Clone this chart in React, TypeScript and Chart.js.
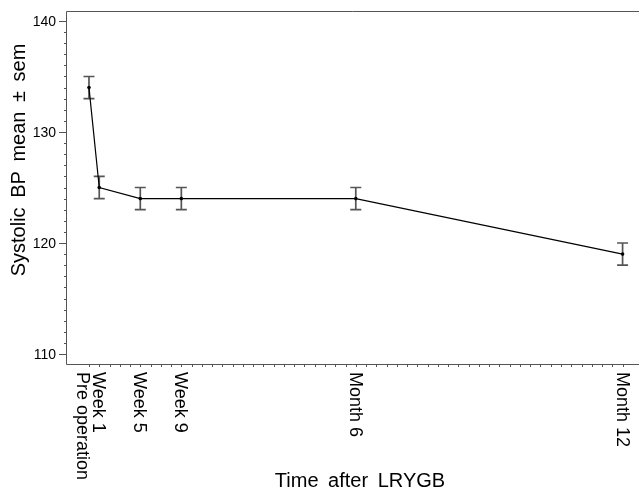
import React, { useEffect, useRef } from "react";
import { Chart, registerables } from "chart.js";

Chart.register(...registerables);

const categories = ["Pre operation", "Week 1", "Week 5", "Week 9", "Month 6", "Month 12"];
const weeks = [0, 1, 5, 9, 26, 52];
const meanBP = [134, 125, 124, 124, 124, 119];
const semBP = [1, 1, 1, 1, 1, 1];
const yTickLabels = [110, 120, 130, 140];
const yTitle = "Systolic BP mean \u00b1 sem";
const xTitle = "Time after LRYGB";

const FONT = "'Liberation Sans', Arial, sans-serif";

const errorBarPlugin = {
  id: "errorBars",
  beforeDatasetsDraw(chart: any) {
    const { ctx } = chart;
    const xs = chart.scales.x;
    const ys = chart.scales.y;
    ctx.save();
    ctx.strokeStyle = "#555555";
    ctx.lineWidth = 1.7;
    weeks.forEach((w, i) => {
      const px = xs.getPixelForValue(w);
      const top = ys.getPixelForValue(meanBP[i] + semBP[i]);
      const bot = ys.getPixelForValue(meanBP[i] - semBP[i]);
      ctx.beginPath();
      ctx.moveTo(px, top);
      ctx.lineTo(px, bot);
      ctx.moveTo(px - 5.5, top);
      ctx.lineTo(px + 5.5, top);
      ctx.moveTo(px - 5.5, bot);
      ctx.lineTo(px + 5.5, bot);
      ctx.stroke();
    });
    ctx.restore();
  },
};

const axesPlugin = {
  id: "customAxes",
  afterDraw(chart: any) {
    const { ctx, chartArea } = chart;
    const xs = chart.scales.x;
    const ys = chart.scales.y;
    ctx.save();
    ctx.strokeStyle = "#555555";
    ctx.lineWidth = 1;
    ctx.beginPath();
    ctx.moveTo(chartArea.left + 0.5, chartArea.top + 0.5);
    ctx.lineTo(chartArea.left + 0.5, chartArea.bottom + 0.5);
    ctx.lineTo(chartArea.right, chartArea.bottom + 0.5);
    ctx.moveTo(chartArea.left + 0.5, chartArea.top + 0.5);
    ctx.lineTo(chartArea.right, chartArea.top + 0.5);
    ctx.stroke();

    const yMin = yTickLabels[0];
    const yMax = yTickLabels[yTickLabels.length - 1];
    ctx.beginPath();
    for (let v = yMin; v <= yMax; v++) {
      const py = Math.round(ys.getPixelForValue(v)) + 0.5;
      const major = yTickLabels.includes(v);
      ctx.moveTo(chartArea.left, py);
      ctx.lineTo(chartArea.left - (major ? 7 : 2), py);
    }
    ctx.stroke();

    ctx.fillStyle = "#000";
    ctx.font = `14px ${FONT}`;
    ctx.textAlign = "right";
    ctx.textBaseline = "middle";
    yTickLabels.forEach((v) => {
      const py = ys.getPixelForValue(v);
      ctx.fillText(String(v), chartArea.left - 10, py + 1);
    });

    ctx.beginPath();
    for (let w = weeks[0]; w <= weeks[weeks.length - 1]; w++) {
      const px = Math.round(xs.getPixelForValue(w)) + 0.5;
      ctx.moveTo(px, chartArea.bottom);
      ctx.lineTo(px, chartArea.bottom + 3);
    }
    ctx.stroke();

    ctx.font = `18px ${FONT}`;
    ctx.textAlign = "left";
    ctx.textBaseline = "middle";
    const minGap = 16;
    weeks.forEach((w, i) => {
      const px = xs.getPixelForValue(w);
      let lx = px - 1;
      if (i + 1 < weeks.length) {
        const nx = xs.getPixelForValue(weeks[i + 1]);
        if (nx - px < minGap) lx -= minGap - (nx - px);
      }
      ctx.save();
      ctx.translate(lx, chartArea.bottom + 8);
      ctx.rotate(Math.PI / 2);
      ctx.fillText(categories[i], 0, 0);
      ctx.restore();
    });

    ctx.font = `20px ${FONT}`;
    (ctx as any).wordSpacing = "4px";
    ctx.textAlign = "center";
    ctx.textBaseline = "alphabetic";
    ctx.fillText(xTitle, 360, 487);
    ctx.save();
    ctx.translate(25, 160);
    ctx.rotate(-Math.PI / 2);
    ctx.fillText(yTitle, 0, 0);
    ctx.restore();
    ctx.restore();
  },
};

export default function App() {
  const ref = useRef<HTMLCanvasElement | null>(null);
  useEffect(() => {
    if (!ref.current) return;
    const chart = new Chart(ref.current, {
      type: "scatter",
      data: {
        datasets: [
          {
            data: weeks.map((w, i) => ({ x: w, y: meanBP[i] })),
            showLine: true,
            borderColor: "#000",
            borderWidth: 1.2,
            pointRadius: 1.8,
            pointBackgroundColor: "#000",
            pointBorderWidth: 0,
          },
        ],
      },
      options: {
        animation: false,
        responsive: false,
        layout: { autoPadding: false, padding: { top: 11, right: 0, left: 0, bottom: 0 } },
        plugins: { legend: { display: false }, tooltip: { enabled: false } },
        scales: {
          x: {
            type: "linear",
            min: -2.24,
            max: 53.6,
            grid: { display: false },
            border: { display: false },
            ticks: { display: false },
            afterFit: (s: any) => {
              s.height = 128;
              s.paddingLeft = 0;
              s.paddingRight = 0;
            },
          },
          y: {
            min: 109.1,
            max: 140.9,
            grid: { display: false },
            border: { display: false },
            ticks: { display: false },
            afterFit: (s: any) => {
              s.width = 66;
              s.paddingTop = 0;
              s.paddingBottom = 0;
            },
          },
        },
      },
      plugins: [errorBarPlugin, axesPlugin],
    });
    return () => chart.destroy();
  }, []);
  return (
    <div style={{ position: "absolute", left: 0, top: 0, width: 639, height: 492, background: "#fff" }}>
      <canvas ref={ref} width={639} height={492} style={{ width: 639, height: 492, display: "block" }} />
    </div>
  );
}
